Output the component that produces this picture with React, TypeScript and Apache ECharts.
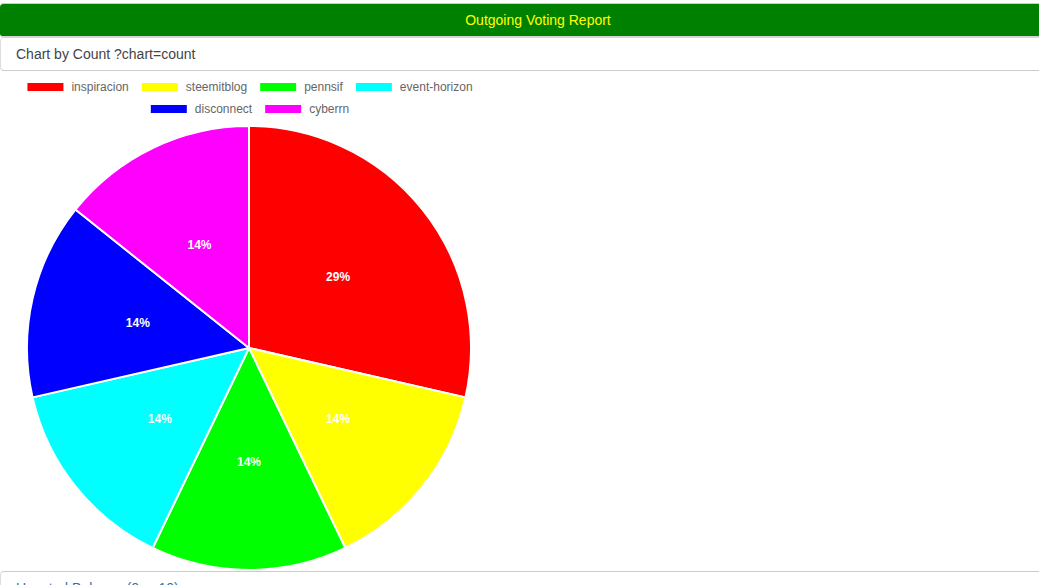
import React, { useEffect, useRef } from "react";
import * as echarts from "echarts";

const names = ["inspiracion", "steemitblog", "pennsif", "event-horizon", "disconnect", "cyberrn"];
const counts = [2, 1, 1, 1, 1, 1];
const colors = ["#ff0000", "#ffff00", "#00ff00", "#00ffff", "#0000ff", "#ff00ff"];
const legendRow1 = names.slice(0, 4);
const legendRow2 = names.slice(4);

const FONT = "'Liberation Sans', Arial, Helvetica, sans-serif";

function Chart() {
  const ref = useRef<HTMLDivElement>(null);
  useEffect(() => {
    if (!ref.current) return;
    const chart = echarts.init(ref.current, undefined, { renderer: "svg" });
    const legendBase = {
      orient: "horizontal" as const,
      left: "center",
      icon: "rect",
      itemWidth: 38,
      itemHeight: 10,
      itemGap: 11,
      selectedMode: false,
      textStyle: { color: "#666", fontSize: 12, fontFamily: FONT, padding: [0, 0, 0, 2] },
    };
    chart.setOption({
      animation: false,
      color: colors,
      legend: [
        { ...legendBase, top: 5, data: legendRow1 },
        { ...legendBase, top: 27, data: legendRow2 },
      ],
      series: [
        {
          type: "pie",
          center: [249, 277],
          radius: [0, 222],
          startAngle: 90,
          clockwise: true,
          silent: true,
          itemStyle: { borderColor: "#fff", borderWidth: 2 },
          label: {
            show: true,
            position: "inside",
            color: "#fff",
            fontWeight: "bold",
            fontSize: 12,
            fontFamily: FONT,
            formatter: (p: any) => Math.round(p.percent) + "%",
          },
          labelLine: { show: false },
          data: names.map((n, i) => ({ name: n, value: counts[i] })),
        },
      ],
    });
    return () => chart.dispose();
  }, []);
  return <div ref={ref} style={{ position: "absolute", left: 0, top: 71, width: 498, height: 500 }} />;
}

export default function App() {
  useEffect(() => {
    document.body.style.margin = "0";
  }, []);
  return (
    <div
      style={{
        position: "fixed",
        left: 0,
        top: 0,
        width: 1039,
        height: 585,
        overflow: "hidden",
        background: "#fff",
        fontFamily: FONT,
      }}
    >
      <div
        style={{
          position: "absolute",
          left: 0,
          top: 3,
          width: 1100,
          height: 35,
          background: "#008000",
          borderTop: "1px solid #ccc",
          borderBottom: "2px solid #d4d4d4",
          borderRadius: 4,
          boxSizing: "border-box",
        }}
      />
      <div
        style={{
          position: "absolute",
          left: 0,
          top: 11,
          width: 1076,
          textAlign: "center",
          color: "#ffff00",
          fontSize: 14,
          lineHeight: "18px",
        }}
      >
        Outgoing Voting Report
      </div>
      <div
        style={{
          position: "absolute",
          left: 0,
          top: 38,
          width: 1100,
          height: 33,
          borderLeft: "1px solid #ddd",
          borderBottom: "1px solid #ccc",
          borderRadius: 4,
          boxSizing: "border-box",
        }}
      />
      <div
        style={{
          position: "absolute",
          left: 16,
          top: 46,
          color: "#444",
          fontSize: 14,
          lineHeight: "17px",
        }}
      >
        Chart by Count ?chart=count
      </div>
      <Chart />
      <div
        style={{
          position: "absolute",
          left: 0,
          top: 571,
          width: 1100,
          height: 40,
          borderTop: "1px solid #ccc",
          borderLeft: "1px solid #ddd",
          borderRadius: 4,
          boxSizing: "border-box",
        }}
      />
      <div
        style={{
          position: "absolute",
          left: 16,
          top: 580,
          color: "#2f6fa7",
          fontSize: 14,
          lineHeight: "17px",
        }}
      >
        Upvoted Balance (0 ... 10)
      </div>
    </div>
  );
}
